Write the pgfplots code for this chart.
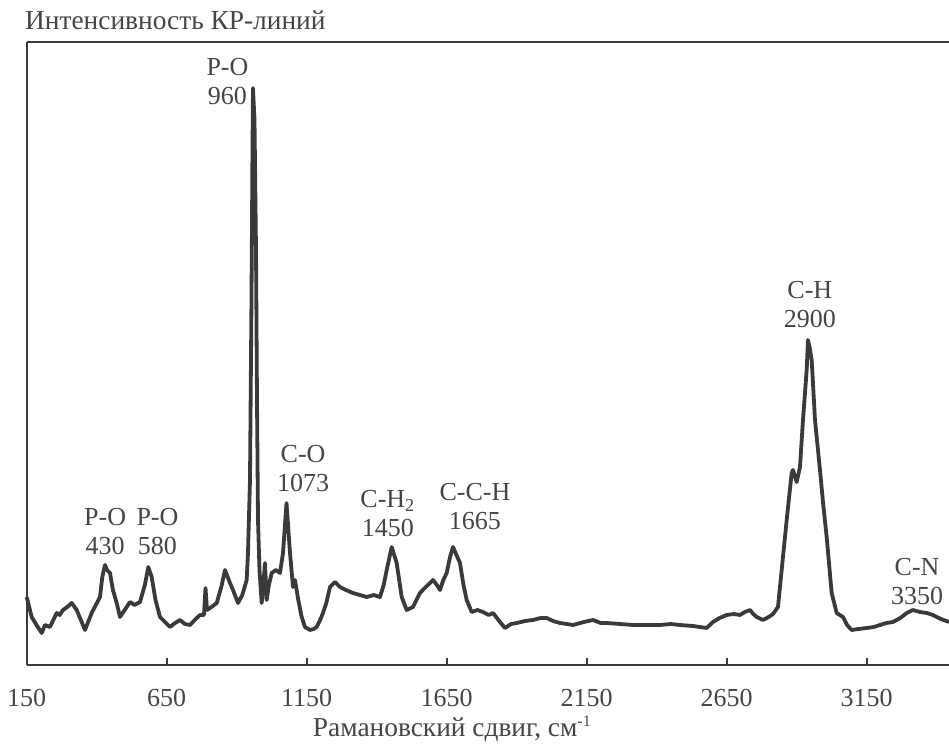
\documentclass[border=0pt]{standalone}
\usepackage{fontspec}
\setmainfont{Liberation Serif}
\usepackage{pgfplots}
\pgfplotsset{compat=1.18}
\definecolor{ink}{HTML}{3A3A3A}
\definecolor{txt}{HTML}{454545}

\begin{document}
\begin{tikzpicture}
\begin{axis}[
  scale only axis, width=461.15pt, height=311.5pt,
  xmin=150, xmax=3444, ymin=0, ymax=623,
  axis x line*=bottom, axis y line*=left,
  axis line style={draw=ink, line width=0.9pt, -},
  xtick={150,650,1150,1650,2150,2650,3150}, ytick=\empty,
  xticklabels={150,650,1150,1650,2150,2650,3150},
  tick align=inside, major tick length=3.5pt,
  tick style={draw=ink, line width=0.9pt},
  xticklabel style={font=\fontsize{13}{15}\selectfont, text=txt, inner sep=1pt, yshift=-11pt},
  clip=false,
]
\addplot[ink, line width=1.9pt, line join=round] coordinates {
(150,68) (167.9,48) (185,40) (203.6,32) (215,40) (233.2,38) (245,45) (257.1,52) (268,50) (279.6,55) (295,58) (310.7,62) (328.6,55)
(358.2,35) (382.1,52) (411.8,68) (420,88) (429.6,100) (437,95) (447.5,92) (458,75) (471.4,62) (483.2,48) (500,55) (518.9,63)
(535,60) (554.6,63) (572,80) (584.3,98) (596.4,88) (610,65) (626.1,48) (661.8,38) (680,42) (697.5,45) (715,41) (733.2,40) (750,45) (768.9,50)
(783.2,50) (788.6,77) (793.9,55) (810,58) (828.6,62) (845,78) (858.2,95) (876.1,82) (886.8,75) (904.6,62)
(920,70) (935.7,85) (940.3,112) (947.5,185) (952.8,365) (956.4,515) (958.2,577) (963.6,545)
(969.0,415) (972.5,265) (976.1,145) (981.4,95) (989.3,62) (995,80) (1001.1,102) (1007.1,65)
(1015,80) (1025.0,92) (1040,95) (1054.6,92) (1065.4,112) (1077.9,162) (1090.4,112) (1101.1,78) (1108.2,85)
(1120,65) (1132.1,48) (1143.9,38) (1161.8,35) (1175,36) (1185.7,38) (1198,45) (1208.2,52) (1220,62) (1233.2,78) (1251.1,83)
(1269.0,78) (1290,75) (1315.4,72) (1340,70) (1364.3,68) (1390,70) (1411.8,68) (1425,80) (1435.7,95) (1453.6,118) (1471.4,102)
(1489.3,68) (1507.1,55) (1529.6,58) (1554.6,72) (1575,78) (1590.4,82) (1601.1,85) (1615,80) (1626.1,75)
(1638,85) (1650.0,92) (1662,108) (1672.5,118) (1685,110) (1697.5,102) (1710,80) (1721.4,65) (1739.3,53) (1760,55) (1779.6,53) (1800,50) (1815.4,52)
(1840.4,43) (1858.2,37) (1880,41) (1900.0,42) (1930,44) (1958.2,45) (1985,47) (2007.1,47) (2030,44) (2054.6,42) (2080,41) (2101.1,40)
(2140,43) (2172.5,45) (2200,42) (2221.4,42) (2270,41) (2315.4,40) (2376.1,40) (2411.8,40) (2450,41) (2483.2,40) (2530,39) (2578.6,37)
(2601.1,43) (2625,47) (2650.0,50) (2675,51) (2697.5,50) (2715,53) (2733.2,55) (2745,51) (2757.1,48) (2779.6,45) (2800,48) (2815.4,51)
(2833.2,58) (2846.4,95) (2864.3,145) (2882.1,192) (2886.8,195) (2900.0,183) (2911.8,198)
(2922.5,245) (2935.7,295) (2940.3,325) (2946,318) (2953.6,305) (2965.4,245) (2983.2,195) (2995,160)
(3007.1,128) (3025.0,72) (3042.9,52) (3065.4,48) (3080,40) (3096.4,35) (3120,36) (3150.0,37) (3175,38) (3197.5,40)
(3220,42) (3243.9,43) (3270,47) (3292.9,52) (3315,55) (3340.4,53) (3365,52) (3386.8,50) (3415,46) (3443.9,43)
};
\draw[ink, line width=0.9pt] (rel axis cs:0,1) -- (rel axis cs:1,1);
\tikzset{lbl/.style={anchor=south, align=center, inner sep=0pt, text=txt,
  font=\fontsize{13}{14.5}\selectfont}}
\node[lbl] at (axis cs:867,560) {P-O\\960};
\node[lbl] at (axis cs:430,110) {P-O\\430};
\node[lbl] at (axis cs:617,110) {P-O\\580};
\node[lbl] at (axis cs:1137,173) {C-O\\1073};
\node[lbl] at (axis cs:1440,128) {C-H\textsubscript{2}\\1450};
\node[lbl] at (axis cs:1751,135) {C-C-H\\1665};
\node[lbl] at (axis cs:2947,337) {C-H\\2900};
\node[lbl] at (axis cs:3330,60) {C-N\\3350};
\node[anchor=base west, inner sep=0pt, text=txt, font=\fontsize{13.7}{15}\selectfont]
  at ([xshift=-1pt,yshift=6pt]rel axis cs:0,1) {Интенсивность КР-линий};
\node[anchor=base, inner sep=0pt, text=txt, font=\fontsize{13.7}{15}\selectfont]
  at ([yshift=-35.5pt]rel axis cs:0.461,0) {Рамановский сдвиг, см\smash{\raisebox{0.75ex}{\fontsize{8}{8}\selectfont -1}}};
\coordinate (bl) at (rel axis cs:0,0);
\coordinate (tr) at (rel axis cs:1,1);
\end{axis}
\pgfresetboundingbox
\path[use as bounding box] ([xshift=-13.35pt,yshift=-40.5pt]bl) rectangle ([yshift=21pt]tr);
\end{tikzpicture}
\end{document}
